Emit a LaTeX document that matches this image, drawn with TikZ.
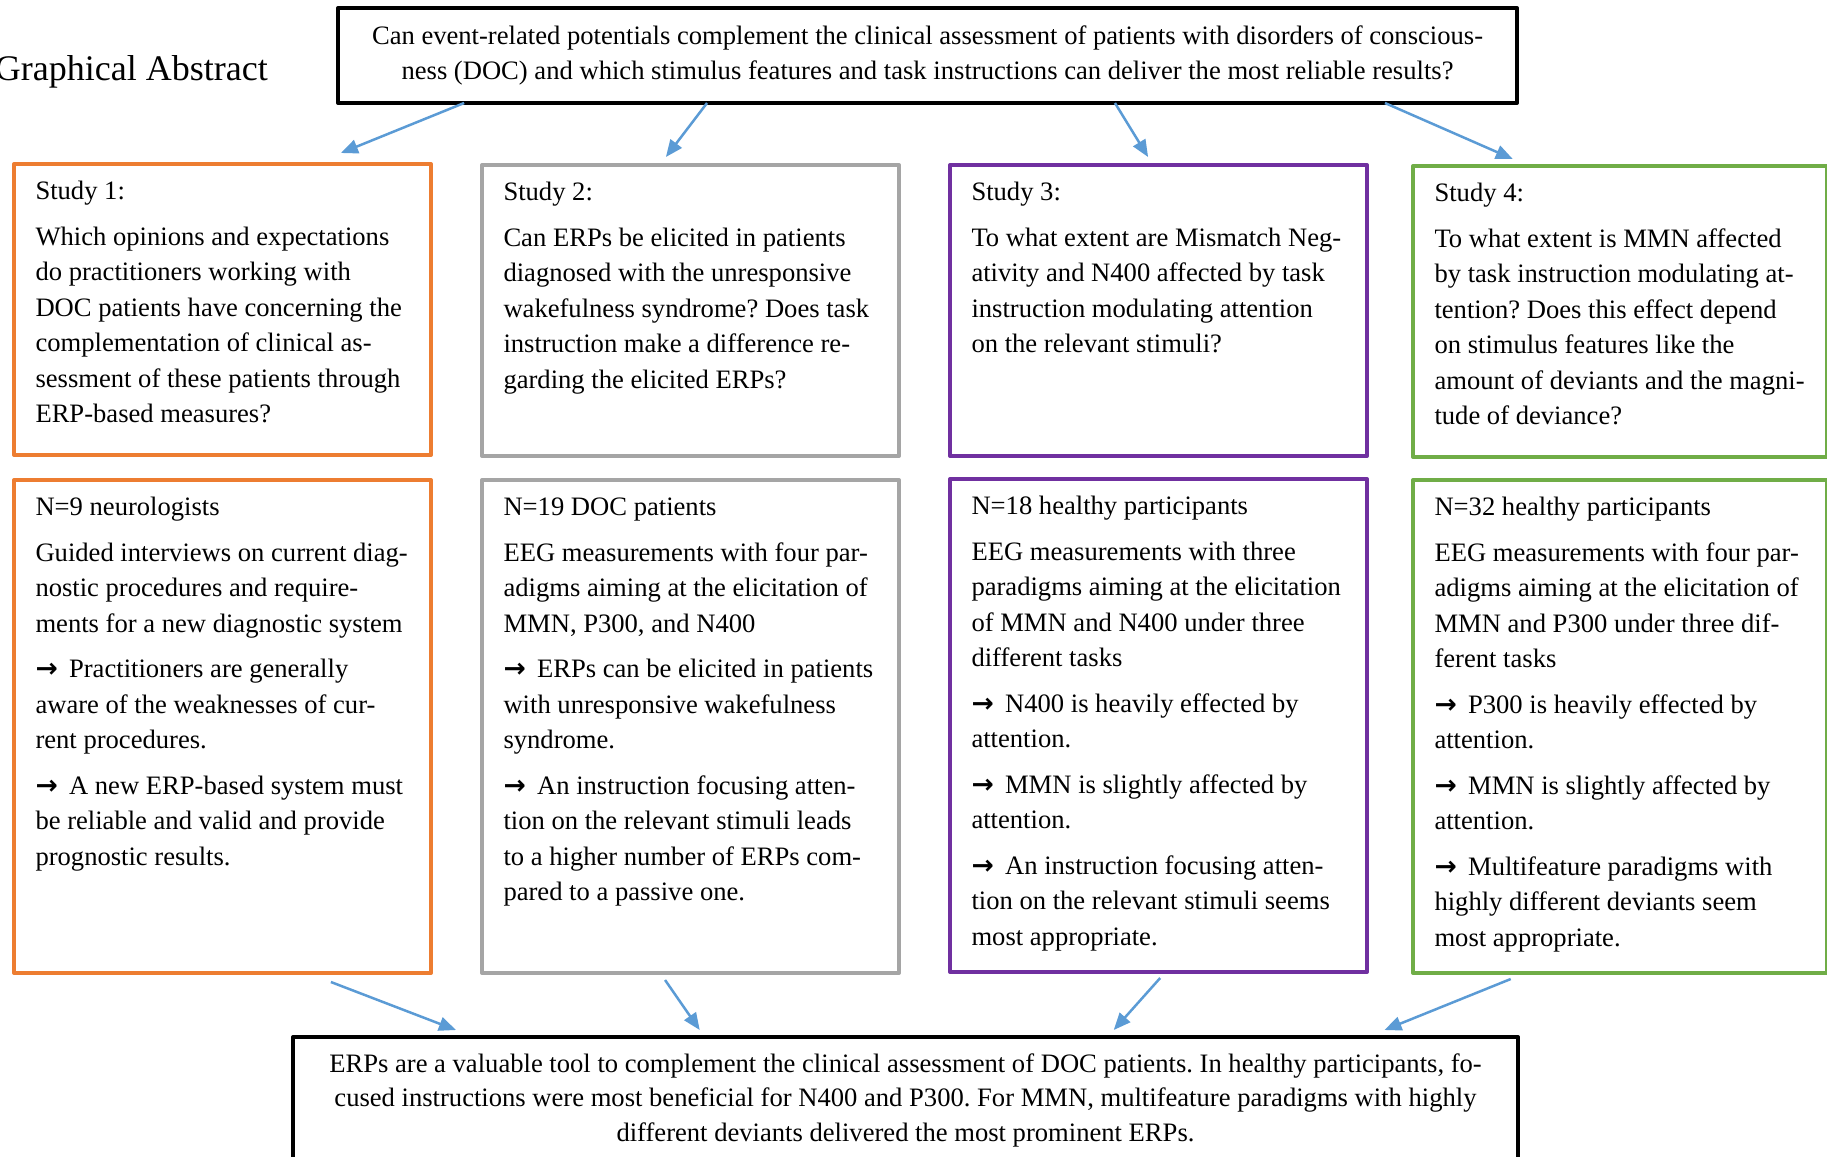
\documentclass[tikz,border=0pt]{standalone}
\usepackage{fontspec}
\setmainfont{Liberation Serif}
\newfontfamily\arrowfont{DejaVu Sans}
\usetikzlibrary{calc,arrows.meta}

\definecolor{studyorange}{HTML}{ED7D31}
\definecolor{studygray}{HTML}{A5A5A5}
\definecolor{studypurple}{HTML}{7030A0}
\definecolor{studygreen}{HTML}{70AD47}
\definecolor{flowblue}{HTML}{5B9BD5}

% text block of fixed height, set from the top
\newcommand{\boxtext}[3][374pt]{\parbox[c][#2][t]{#1}{\raggedright\strut#3}}
% result arrow
\newcommand{\res}{{\arrowfont\bfseries →}\hspace{11.3pt}}

\begin{document}
\frenchspacing
\begin{tikzpicture}[x=1pt, y=-1pt, line join=round,
    font=\fontsize{26.6}{35.5}\selectfont,
    study/.style={draw=#1, line width=4pt, outer sep=0pt, inner xsep=21.5pt, inner ysep=11pt, anchor=north west},
    frame/.style={draw=black, line width=4pt, outer sep=0pt},
    flow/.style={draw=flowblue, line width=2.5pt, -{Triangle[length=17pt,width=14pt]}}]
  \useasboundingbox (0,0) rectangle (1827,1156);

  % title and research question
  \node[anchor=base east, inner sep=0pt, font=\fontsize{36}{40}\selectfont] (title) at (268,80) {Graphical Abstract};
  \node[frame, minimum width=1179pt, minimum height=95pt, align=center, font=\fontsize{26.6}{34.5}\selectfont] (q) at (927.5,55.5)
    {Can event-related potentials complement the clinical assessment of patients with disorders of conscious-\\
     ness (DOC) and which stimulus features and task instructions can deliver the most reliable results?};

  % study questions
  \node[study=studyorange] (s1) at (14,164) {\boxtext{269pt}{Study 1:\\[10pt]
    Which opinions and expectations\\ do practitioners working with\\ DOC patients have concerning the\\
    complementation of clinical as-\\ sessment of these patients through\\ ERP-based measures?}};
  \node[study=studygray] (s2) at (482,165) {\boxtext{269pt}{Study 2:\\[10pt]
    Can ERPs be elicited in patients\\ diagnosed with the unresponsive\\ wakefulness syndrome? Does task\\
    instruction make a difference re-\\ garding the elicited ERPs?}};
  \node[study=studypurple] (s3) at (950,165) {\boxtext{269pt}{Study 3:\\[10pt]
    To what extent are Mismatch Neg-\\ ativity and N400 affected by task\\ instruction modulating attention\\
    on the relevant stimuli?}};
  \node[study=studygreen] (s4) at (1413,166) {\boxtext[371pt]{269pt}{Study 4:\\[10pt]
    To what extent is MMN affected\\ by task instruction modulating at-\\ tention? Does this effect depend\\
    on stimulus features like the\\ amount of deviants and the magni-\\ tude of deviance?}};

  % samples, methods and results
  \node[study=studyorange] (r1) at (14,480) {\boxtext{471pt}{N=9 neurologists\\[10pt]
    Guided interviews on current diag-\\ nostic procedures and require-\\ ments for a new diagnostic system\\[10pt]
    \res Practitioners are generally\\ aware of the weaknesses of cur-\\ rent procedures.\\[10pt]
    \res A new ERP-based system must\\ be reliable and valid and provide\\ prognostic results.}};
  \node[study=studygray] (r2) at (482,480) {\boxtext{471pt}{N=19 DOC patients\\[10pt]
    EEG measurements with four par-\\ adigms aiming at the elicitation of\\ MMN, P300, and N400\\[10pt]
    \res ERPs can be elicited in patients\\ with unresponsive wakefulness\\ syndrome.\\[10pt]
    \res An instruction focusing atten-\\ tion on the relevant stimuli leads\\ to a higher number of ERPs com-\\
    pared to a passive one.}};
  \node[study=studypurple] (r3) at (950,479) {\boxtext{471pt}{N=18 healthy participants\\[10pt]
    EEG measurements with three\\ paradigms aiming at the elicitation\\ of MMN and N400 under three\\
    different tasks\\[10pt]
    \res N400 is heavily effected by\\ attention.\\[10pt]
    \res MMN is slightly affected by\\ attention.\\[10pt]
    \res An instruction focusing atten-\\ tion on the relevant stimuli seems\\ most appropriate.}};
  \node[study=studygreen] (r4) at (1413,480) {\boxtext[371pt]{471pt}{N=32 healthy participants\\[10pt]
    EEG measurements with four par-\\ adigms aiming at the elicitation of\\ MMN and P300 under three dif-\\
    ferent tasks\\[10pt]
    \res P300 is heavily effected by\\ attention.\\[10pt]
    \res MMN is slightly affected by\\ attention.\\[10pt]
    \res Multifeature paradigms with\\ highly different deviants seem\\ most appropriate.}};

  % conclusion
  \node[frame, anchor=north west, inner xsep=0pt, inner ysep=11pt] (sum) at (293,1037)
    {\parbox[c][140pt][t]{1225pt}{\centering\fontsize{26.6}{34.5}\selectfont\strut
     ERPs are a valuable tool to complement the clinical assessment of DOC patients. In healthy participants, fo-\\
     cused instructions were most beneficial for N400 and P300. For MMN, multifeature paradigms with highly\\
     different deviants delivered the most prominent ERPs.}};

  % arrows
  \foreach \tgt/\fa/\fb/\dy in {s1/.107/.784/11, s2/.313/.441/8, s3/.659/.475/8, s4/.888/.241/7}
    \draw[flow] ($(q.south west)!\fa!(q.south east)$) -- ($(\tgt.north west)!\fb!(\tgt.north east)+(0,-\dy)$);
  \foreach \src/\fa/\fb/\dy in {r1/.76/.133/9, r2/.439/.332/7, r3/.504/.670/6, r4/.236/.891/6}
    \draw[flow] ($(\src.south west)!\fa!(\src.south east)+(0,\dy)$) -- ($(sum.north west)!\fb!(sum.north east)+(0,-7)$);
\end{tikzpicture}
\end{document}
